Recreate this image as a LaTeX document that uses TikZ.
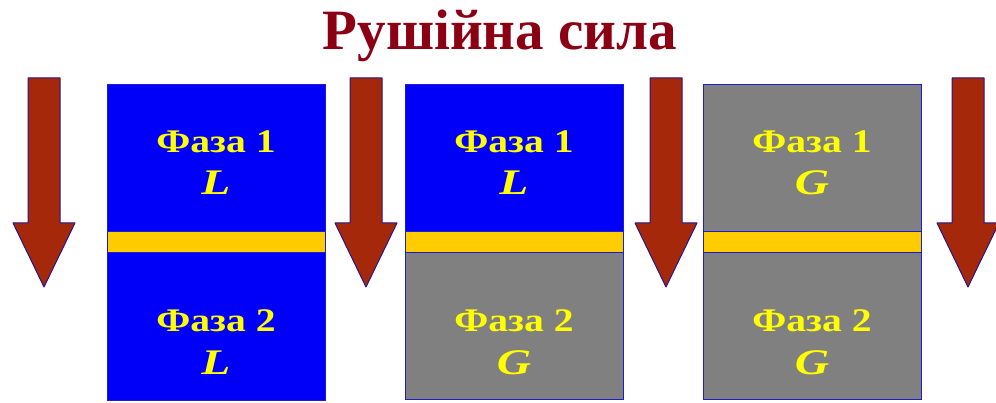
\documentclass[tikz,border=0pt]{standalone}
\usepackage{fontspec}
\setmainfont{Liberation Serif}
\definecolor{boxblue}{RGB}{0,0,250}
\definecolor{boxline}{RGB}{30,30,200}
\definecolor{boxgray}{RGB}{128,128,128}
\definecolor{band}{RGB}{255,204,0}
\definecolor{txt}{RGB}{255,255,0}
\definecolor{arrowred}{RGB}{165,40,10}
\definecolor{outline}{RGB}{40,20,140}
\definecolor{titlered}{RGB}{140,0,20}
\tikzset{
  fillpart/.style={draw=boxline, line width=1pt},
  bandpart/.style={fill=band, draw=boxline, line width=1pt},
  lbl/.style={text=txt, font=\bfseries\fontsize{33}{36}\selectfont, anchor=base, xscale=1.2, transform shape, inner sep=0pt},
  lbli/.style={lbl, font=\bfseries\itshape\fontsize{36}{38}\selectfont, xscale=1.1},
  downarrow/.style={fill=arrowred, draw=outline, line width=1pt, line join=round},
}
\begin{document}
\begin{tikzpicture}[x=1pt,y=-1pt]
\useasboundingbox (0,0) rectangle (996,403);
\node[text=titlered, font=\bfseries\fontsize{57}{60}\selectfont, anchor=base, inner sep=0pt] (title) at (500,50) {Рушійна сила};
% arrows
\foreach \n/\cx in {a1/44, a2/366, a3/666, a4/968}{
  \draw[downarrow] (\cx-16,78) -- (\cx+16,78) -- (\cx+16,223) -- (\cx+31,223) -- (\cx,287) -- (\cx-31,223) -- (\cx-16,223) -- cycle;
  \coordinate (\n) at (\cx,287);
}
% box 1
\path[fillpart, fill=boxblue] (107,85) rectangle (325,232);
\path[fillpart, fill=boxblue] (107,253) rectangle (325,400);
\path[bandpart] (107,232) rectangle (325,253);
% box 2
\path[fillpart, fill=boxblue] (405,85) rectangle (623,232);
\path[fillpart, fill=boxgray] (405,253) rectangle (623,399);
\path[bandpart] (405,232) rectangle (623,253);
% box 3
\path[fillpart, fill=boxgray] (703,85) rectangle (921,232);
\path[fillpart, fill=boxgray] (703,253) rectangle (921,399);
\path[bandpart] (703,232) rectangle (921,253);
% labels
\node[lbl] (b1t) at (216,153) {Фаза 1};
\node[lbli] (b1tl) at (216,195) {L};
\node[lbl] (b1b) at (216,332) {Фаза 2};
\node[lbli] (b1bl) at (216,374) {L};
\node[lbl] (b2t) at (514,153) {Фаза 1};
\node[lbli] (b2tl) at (514,195) {L};
\node[lbl] (b2b) at (514,332) {Фаза 2};
\node[lbli] (b2bl) at (514,374) {G};
\node[lbl] (b3t) at (812,153) {Фаза 1};
\node[lbli] (b3tl) at (812,195) {G};
\node[lbl] (b3b) at (812,332) {Фаза 2};
\node[lbli] (b3bl) at (812,374) {G};
\end{tikzpicture}
\end{document}
